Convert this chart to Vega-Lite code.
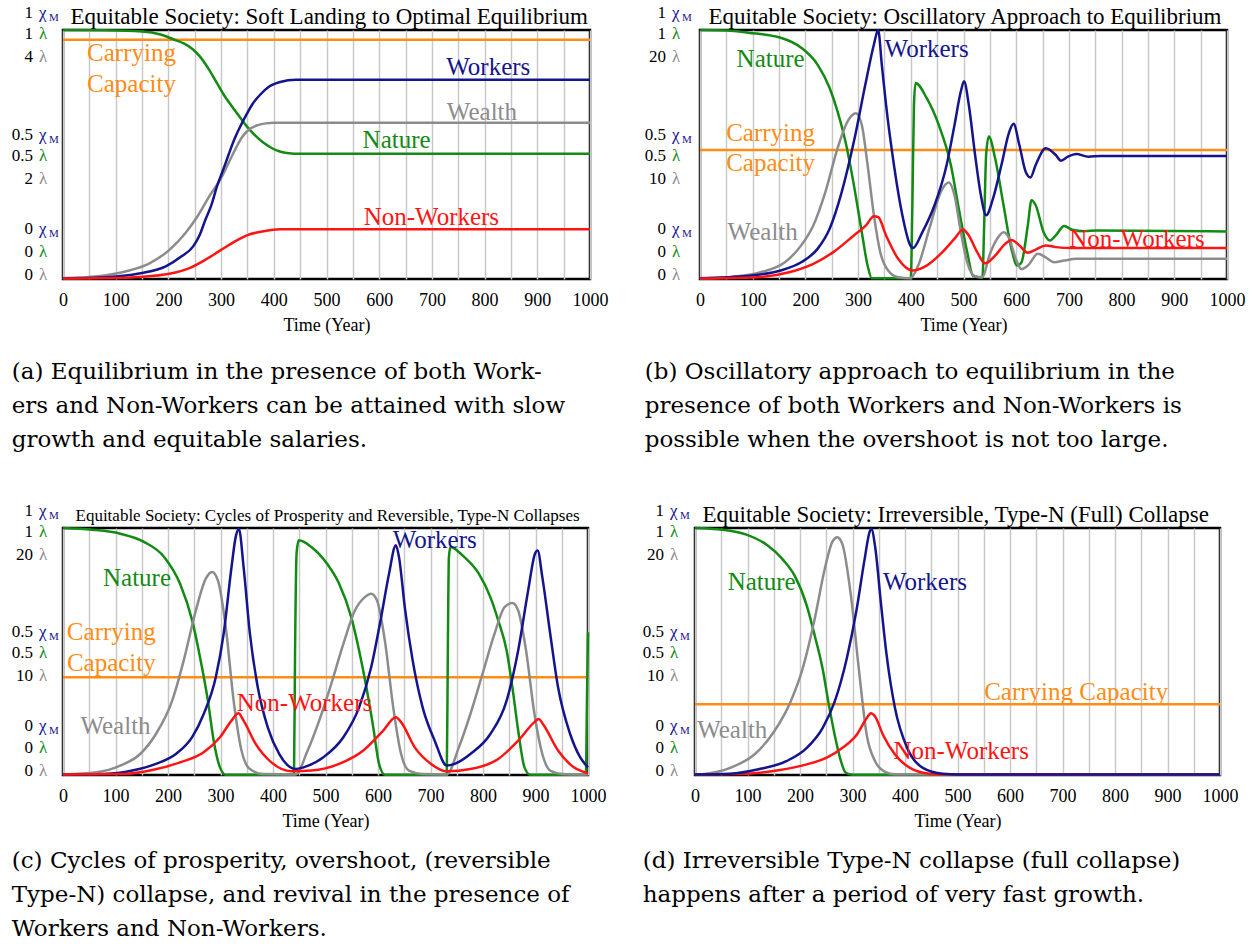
{
  "$schema": "https://vega.github.io/schema/vega-lite/v6.json",
  "padding": {"left": 10, "top": 2, "right": 0, "bottom": 0},
  "background": "white",
  "config": {
    "font": "Liberation Serif",
    "view": {"stroke": "black", "strokeWidth": 2.5},
    "axis": {"labelColor": "black", "titleColor": "black", "labelFont": "Liberation Serif", "titleFont": "Liberation Serif"},
    "text": {"font": "Liberation Serif"}
  },
  "datasets": {
    "curves": [
      {"panel":"a","series":"Carrying Capacity","year":0,"value":0.961},
      {"panel":"a","series":"Carrying Capacity","year":1000,"value":0.961},
      {"panel":"a","series":"Nature","year":0,"value":1},
      {"panel":"a","series":"Nature","year":80,"value":0.999},
      {"panel":"a","series":"Nature","year":150,"value":0.994},
      {"panel":"a","series":"Nature","year":185,"value":0.982},
      {"panel":"a","series":"Nature","year":210,"value":0.962},
      {"panel":"a","series":"Nature","year":230,"value":0.945},
      {"panel":"a","series":"Nature","year":245,"value":0.925},
      {"panel":"a","series":"Nature","year":260,"value":0.893},
      {"panel":"a","series":"Nature","year":275,"value":0.848},
      {"panel":"a","series":"Nature","year":290,"value":0.795},
      {"panel":"a","series":"Nature","year":305,"value":0.74},
      {"panel":"a","series":"Nature","year":320,"value":0.695},
      {"panel":"a","series":"Nature","year":335,"value":0.652},
      {"panel":"a","series":"Nature","year":350,"value":0.61},
      {"panel":"a","series":"Nature","year":365,"value":0.576},
      {"panel":"a","series":"Nature","year":380,"value":0.548},
      {"panel":"a","series":"Nature","year":395,"value":0.527},
      {"panel":"a","series":"Nature","year":410,"value":0.513},
      {"panel":"a","series":"Nature","year":425,"value":0.506},
      {"panel":"a","series":"Nature","year":440,"value":0.503},
      {"panel":"a","series":"Nature","year":1000,"value":0.503},
      {"panel":"a","series":"Wealth","year":0,"value":0.003},
      {"panel":"a","series":"Wealth","year":67,"value":0.011},
      {"panel":"a","series":"Wealth","year":120,"value":0.031},
      {"panel":"a","series":"Wealth","year":165,"value":0.064},
      {"panel":"a","series":"Wealth","year":202,"value":0.117},
      {"panel":"a","series":"Wealth","year":232,"value":0.184},
      {"panel":"a","series":"Wealth","year":255,"value":0.251},
      {"panel":"a","series":"Wealth","year":277,"value":0.33},
      {"panel":"a","series":"Wealth","year":300,"value":0.405},
      {"panel":"a","series":"Wealth","year":322,"value":0.5},
      {"panel":"a","series":"Wealth","year":340,"value":0.57},
      {"panel":"a","series":"Wealth","year":355,"value":0.603},
      {"panel":"a","series":"Wealth","year":370,"value":0.618},
      {"panel":"a","series":"Wealth","year":385,"value":0.625},
      {"panel":"a","series":"Wealth","year":400,"value":0.628},
      {"panel":"a","series":"Wealth","year":1000,"value":0.628},
      {"panel":"a","series":"Workers","year":0,"value":0.003},
      {"panel":"a","series":"Workers","year":60,"value":0.005},
      {"panel":"a","series":"Workers","year":105,"value":0.011},
      {"panel":"a","series":"Workers","year":150,"value":0.024},
      {"panel":"a","series":"Workers","year":195,"value":0.051},
      {"panel":"a","series":"Workers","year":225,"value":0.091},
      {"panel":"a","series":"Workers","year":247,"value":0.131},
      {"panel":"a","series":"Workers","year":260,"value":0.18},
      {"panel":"a","series":"Workers","year":270,"value":0.237},
      {"panel":"a","series":"Workers","year":282,"value":0.3},
      {"panel":"a","series":"Workers","year":292,"value":0.371},
      {"panel":"a","series":"Workers","year":305,"value":0.445},
      {"panel":"a","series":"Workers","year":315,"value":0.504},
      {"panel":"a","series":"Workers","year":326,"value":0.565},
      {"panel":"a","series":"Workers","year":337,"value":0.615},
      {"panel":"a","series":"Workers","year":348,"value":0.66},
      {"panel":"a","series":"Workers","year":360,"value":0.704},
      {"panel":"a","series":"Workers","year":375,"value":0.742},
      {"panel":"a","series":"Workers","year":390,"value":0.771},
      {"panel":"a","series":"Workers","year":412,"value":0.791},
      {"panel":"a","series":"Workers","year":442,"value":0.8},
      {"panel":"a","series":"Workers","year":1000,"value":0.8},
      {"panel":"a","series":"Non-Workers","year":0,"value":0.002},
      {"panel":"a","series":"Non-Workers","year":100,"value":0.004},
      {"panel":"a","series":"Non-Workers","year":142,"value":0.008},
      {"panel":"a","series":"Non-Workers","year":202,"value":0.021},
      {"panel":"a","series":"Non-Workers","year":240,"value":0.044},
      {"panel":"a","series":"Non-Workers","year":270,"value":0.077},
      {"panel":"a","series":"Non-Workers","year":300,"value":0.117},
      {"panel":"a","series":"Non-Workers","year":330,"value":0.155},
      {"panel":"a","series":"Non-Workers","year":350,"value":0.176},
      {"panel":"a","series":"Non-Workers","year":370,"value":0.188},
      {"panel":"a","series":"Non-Workers","year":390,"value":0.195},
      {"panel":"a","series":"Non-Workers","year":412,"value":0.2},
      {"panel":"a","series":"Non-Workers","year":1000,"value":0.2},

      {"panel":"b","series":"Carrying Capacity","year":0,"value":0.518},
      {"panel":"b","series":"Carrying Capacity","year":1000,"value":0.518},
      {"panel":"b","series":"Nature","year":0,"value":1},
      {"panel":"b","series":"Nature","year":50,"value":0.998},
      {"panel":"b","series":"Nature","year":92,"value":0.989},
      {"panel":"b","series":"Nature","year":153,"value":0.969},
      {"panel":"b","series":"Nature","year":192,"value":0.929},
      {"panel":"b","series":"Nature","year":223,"value":0.861},
      {"panel":"b","series":"Nature","year":246,"value":0.767},
      {"panel":"b","series":"Nature","year":261,"value":0.673},
      {"panel":"b","series":"Nature","year":276,"value":0.552},
      {"panel":"b","series":"Nature","year":292,"value":0.377},
      {"panel":"b","series":"Nature","year":307,"value":0.188},
      {"panel":"b","series":"Nature","year":318,"value":0.054},
      {"panel":"b","series":"Nature","year":326,"value":0.003},
      {"panel":"b","series":"Nature","year":400,"value":0.003},
      {"panel":"b","series":"Nature","year":403,"value":0.3},
      {"panel":"b","series":"Nature","year":406,"value":0.7},
      {"panel":"b","series":"Nature","year":409,"value":0.787},
      {"panel":"b","series":"Nature","year":430,"value":0.727},
      {"panel":"b","series":"Nature","year":453,"value":0.619},
      {"panel":"b","series":"Nature","year":476,"value":0.458},
      {"panel":"b","series":"Nature","year":491,"value":0.283},
      {"panel":"b","series":"Nature","year":507,"value":0.108},
      {"panel":"b","series":"Nature","year":518,"value":0.013},
      {"panel":"b","series":"Nature","year":536,"value":0.005},
      {"panel":"b","series":"Nature","year":539,"value":0.2},
      {"panel":"b","series":"Nature","year":543,"value":0.5},
      {"panel":"b","series":"Nature","year":548,"value":0.572},
      {"panel":"b","series":"Nature","year":560,"value":0.485},
      {"panel":"b","series":"Nature","year":576,"value":0.296},
      {"panel":"b","series":"Nature","year":591,"value":0.121},
      {"panel":"b","series":"Nature","year":602,"value":0.054},
      {"panel":"b","series":"Nature","year":610,"value":0.067},
      {"panel":"b","series":"Nature","year":622,"value":0.215},
      {"panel":"b","series":"Nature","year":629,"value":0.316},
      {"panel":"b","series":"Nature","year":637,"value":0.296},
      {"panel":"b","series":"Nature","year":652,"value":0.188},
      {"panel":"b","series":"Nature","year":664,"value":0.155},
      {"panel":"b","series":"Nature","year":675,"value":0.175},
      {"panel":"b","series":"Nature","year":691,"value":0.213},
      {"panel":"b","series":"Nature","year":706,"value":0.198},
      {"panel":"b","series":"Nature","year":729,"value":0.192},
      {"panel":"b","series":"Nature","year":752,"value":0.195},
      {"panel":"b","series":"Nature","year":1000,"value":0.191},
      {"panel":"b","series":"Wealth","year":0,"value":0.002},
      {"panel":"b","series":"Wealth","year":54,"value":0.007},
      {"panel":"b","series":"Wealth","year":115,"value":0.027},
      {"panel":"b","series":"Wealth","year":161,"value":0.067},
      {"panel":"b","series":"Wealth","year":192,"value":0.135},
      {"panel":"b","series":"Wealth","year":215,"value":0.215},
      {"panel":"b","series":"Wealth","year":238,"value":0.35},
      {"panel":"b","series":"Wealth","year":261,"value":0.525},
      {"panel":"b","series":"Wealth","year":280,"value":0.633},
      {"panel":"b","series":"Wealth","year":296,"value":0.666},
      {"panel":"b","series":"Wealth","year":307,"value":0.619},
      {"panel":"b","series":"Wealth","year":318,"value":0.458},
      {"panel":"b","series":"Wealth","year":330,"value":0.256},
      {"panel":"b","series":"Wealth","year":342,"value":0.108},
      {"panel":"b","series":"Wealth","year":357,"value":0.034},
      {"panel":"b","series":"Wealth","year":376,"value":0.007},
      {"panel":"b","series":"Wealth","year":399,"value":0.003},
      {"panel":"b","series":"Wealth","year":414,"value":0.054},
      {"panel":"b","series":"Wealth","year":437,"value":0.215},
      {"panel":"b","series":"Wealth","year":457,"value":0.35},
      {"panel":"b","series":"Wealth","year":472,"value":0.388},
      {"panel":"b","series":"Wealth","year":483,"value":0.336},
      {"panel":"b","series":"Wealth","year":495,"value":0.188},
      {"panel":"b","series":"Wealth","year":507,"value":0.067},
      {"panel":"b","series":"Wealth","year":522,"value":0.011},
      {"panel":"b","series":"Wealth","year":536,"value":0.007},
      {"panel":"b","series":"Wealth","year":549,"value":0.094},
      {"panel":"b","series":"Wealth","year":564,"value":0.162},
      {"panel":"b","series":"Wealth","year":576,"value":0.188},
      {"panel":"b","series":"Wealth","year":587,"value":0.162},
      {"panel":"b","series":"Wealth","year":599,"value":0.081},
      {"panel":"b","series":"Wealth","year":610,"value":0.04},
      {"panel":"b","series":"Wealth","year":622,"value":0.054},
      {"panel":"b","series":"Wealth","year":641,"value":0.101},
      {"panel":"b","series":"Wealth","year":656,"value":0.087},
      {"panel":"b","series":"Wealth","year":672,"value":0.067},
      {"panel":"b","series":"Wealth","year":691,"value":0.074},
      {"panel":"b","series":"Wealth","year":714,"value":0.081},
      {"panel":"b","series":"Wealth","year":1000,"value":0.081},
      {"panel":"b","series":"Workers","year":0,"value":0.003},
      {"panel":"b","series":"Workers","year":92,"value":0.013},
      {"panel":"b","series":"Workers","year":153,"value":0.034},
      {"panel":"b","series":"Workers","year":192,"value":0.067},
      {"panel":"b","series":"Workers","year":223,"value":0.121},
      {"panel":"b","series":"Workers","year":246,"value":0.202},
      {"panel":"b","series":"Workers","year":269,"value":0.35},
      {"panel":"b","series":"Workers","year":292,"value":0.552},
      {"panel":"b","series":"Workers","year":315,"value":0.794},
      {"panel":"b","series":"Workers","year":330,"value":0.942},
      {"panel":"b","series":"Workers","year":338,"value":1.0},
      {"panel":"b","series":"Workers","year":345,"value":0.86},
      {"panel":"b","series":"Workers","year":353,"value":0.7},
      {"panel":"b","series":"Workers","year":368,"value":0.458},
      {"panel":"b","series":"Workers","year":384,"value":0.256},
      {"panel":"b","series":"Workers","year":399,"value":0.135},
      {"panel":"b","series":"Workers","year":404,"value":0.124},
      {"panel":"b","series":"Workers","year":422,"value":0.188},
      {"panel":"b","series":"Workers","year":445,"value":0.296},
      {"panel":"b","series":"Workers","year":468,"value":0.458},
      {"panel":"b","series":"Workers","year":483,"value":0.619},
      {"panel":"b","series":"Workers","year":495,"value":0.754},
      {"panel":"b","series":"Workers","year":501,"value":0.794},
      {"panel":"b","series":"Workers","year":510,"value":0.7},
      {"panel":"b","series":"Workers","year":522,"value":0.498},
      {"panel":"b","series":"Workers","year":533,"value":0.336},
      {"panel":"b","series":"Workers","year":543,"value":0.256},
      {"panel":"b","series":"Workers","year":556,"value":0.323},
      {"panel":"b","series":"Workers","year":572,"value":0.458},
      {"panel":"b","series":"Workers","year":587,"value":0.592},
      {"panel":"b","series":"Workers","year":595,"value":0.623},
      {"panel":"b","series":"Workers","year":606,"value":0.538},
      {"panel":"b","series":"Workers","year":618,"value":0.431},
      {"panel":"b","series":"Workers","year":627,"value":0.408},
      {"panel":"b","series":"Workers","year":637,"value":0.458},
      {"panel":"b","series":"Workers","year":656,"value":0.525},
      {"panel":"b","series":"Workers","year":675,"value":0.498},
      {"panel":"b","series":"Workers","year":685,"value":0.475},
      {"panel":"b","series":"Workers","year":698,"value":0.491},
      {"panel":"b","series":"Workers","year":714,"value":0.502},
      {"panel":"b","series":"Workers","year":737,"value":0.491},
      {"panel":"b","series":"Workers","year":760,"value":0.494},
      {"panel":"b","series":"Workers","year":1000,"value":0.494},
      {"panel":"b","series":"Non-Workers","year":0,"value":0.002},
      {"panel":"b","series":"Non-Workers","year":107,"value":0.007},
      {"panel":"b","series":"Non-Workers","year":169,"value":0.027},
      {"panel":"b","series":"Non-Workers","year":215,"value":0.061},
      {"panel":"b","series":"Non-Workers","year":253,"value":0.108},
      {"panel":"b","series":"Non-Workers","year":292,"value":0.175},
      {"panel":"b","series":"Non-Workers","year":315,"value":0.215},
      {"panel":"b","series":"Non-Workers","year":330,"value":0.252},
      {"panel":"b","series":"Non-Workers","year":338,"value":0.249},
      {"panel":"b","series":"Non-Workers","year":353,"value":0.175},
      {"panel":"b","series":"Non-Workers","year":376,"value":0.081},
      {"panel":"b","series":"Non-Workers","year":403,"value":0.034},
      {"panel":"b","series":"Non-Workers","year":430,"value":0.054},
      {"panel":"b","series":"Non-Workers","year":460,"value":0.108},
      {"panel":"b","series":"Non-Workers","year":483,"value":0.162},
      {"panel":"b","series":"Non-Workers","year":499,"value":0.199},
      {"panel":"b","series":"Non-Workers","year":510,"value":0.175},
      {"panel":"b","series":"Non-Workers","year":526,"value":0.108},
      {"panel":"b","series":"Non-Workers","year":541,"value":0.063},
      {"panel":"b","series":"Non-Workers","year":560,"value":0.094},
      {"panel":"b","series":"Non-Workers","year":579,"value":0.141},
      {"panel":"b","series":"Non-Workers","year":591,"value":0.157},
      {"panel":"b","series":"Non-Workers","year":606,"value":0.135},
      {"panel":"b","series":"Non-Workers","year":622,"value":0.105},
      {"panel":"b","series":"Non-Workers","year":637,"value":0.118},
      {"panel":"b","series":"Non-Workers","year":656,"value":0.135},
      {"panel":"b","series":"Non-Workers","year":675,"value":0.128},
      {"panel":"b","series":"Non-Workers","year":706,"value":0.124},
      {"panel":"b","series":"Non-Workers","year":1000,"value":0.124},

      {"panel":"c","series":"Carrying Capacity","year":0,"value":0.396},
      {"panel":"c","series":"Carrying Capacity","year":1000,"value":0.396},
      {"panel":"c","series":"Nature","year":0,"value":1},
      {"panel":"c","series":"Nature","year":56,"value":0.993},
      {"panel":"c","series":"Nature","year":109,"value":0.977},
      {"panel":"c","series":"Nature","year":155,"value":0.943},
      {"panel":"c","series":"Nature","year":193,"value":0.882},
      {"panel":"c","series":"Nature","year":223,"value":0.774},
      {"panel":"c","series":"Nature","year":246,"value":0.626},
      {"panel":"c","series":"Nature","year":261,"value":0.477},
      {"panel":"c","series":"Nature","year":276,"value":0.301},
      {"panel":"c","series":"Nature","year":287,"value":0.139},
      {"panel":"c","series":"Nature","year":299,"value":0.031},
      {"panel":"c","series":"Nature","year":310,"value":0.001},
      {"panel":"c","series":"Nature","year":440,"value":0.001},
      {"panel":"c","series":"Nature","year":442,"value":0.5},
      {"panel":"c","series":"Nature","year":445,"value":0.9},
      {"panel":"c","series":"Nature","year":449,"value":0.95},
      {"panel":"c","series":"Nature","year":473,"value":0.923},
      {"panel":"c","series":"Nature","year":503,"value":0.855},
      {"panel":"c","series":"Nature","year":526,"value":0.774},
      {"panel":"c","series":"Nature","year":549,"value":0.639},
      {"panel":"c","series":"Nature","year":564,"value":0.504},
      {"panel":"c","series":"Nature","year":579,"value":0.342},
      {"panel":"c","series":"Nature","year":591,"value":0.193},
      {"panel":"c","series":"Nature","year":602,"value":0.045},
      {"panel":"c","series":"Nature","year":613,"value":0.001},
      {"panel":"c","series":"Nature","year":731,"value":0.001},
      {"panel":"c","series":"Nature","year":733,"value":0.5},
      {"panel":"c","series":"Nature","year":735,"value":0.88},
      {"panel":"c","series":"Nature","year":738,"value":0.923},
      {"panel":"c","series":"Nature","year":761,"value":0.889},
      {"panel":"c","series":"Nature","year":792,"value":0.815},
      {"panel":"c","series":"Nature","year":814,"value":0.72},
      {"panel":"c","series":"Nature","year":829,"value":0.626},
      {"panel":"c","series":"Nature","year":845,"value":0.504},
      {"panel":"c","series":"Nature","year":856,"value":0.355},
      {"panel":"c","series":"Nature","year":867,"value":0.18},
      {"panel":"c","series":"Nature","year":879,"value":0.031},
      {"panel":"c","series":"Nature","year":890,"value":0.001},
      {"panel":"c","series":"Nature","year":996,"value":0.001},
      {"panel":"c","series":"Nature","year":998,"value":0.3},
      {"panel":"c","series":"Nature","year":1000,"value":0.578},
      {"panel":"c","series":"Wealth","year":0,"value":0.002},
      {"panel":"c","series":"Wealth","year":64,"value":0.011},
      {"panel":"c","series":"Wealth","year":109,"value":0.038},
      {"panel":"c","series":"Wealth","year":147,"value":0.085},
      {"panel":"c","series":"Wealth","year":177,"value":0.166},
      {"panel":"c","series":"Wealth","year":208,"value":0.301},
      {"panel":"c","series":"Wealth","year":230,"value":0.464},
      {"panel":"c","series":"Wealth","year":253,"value":0.666},
      {"panel":"c","series":"Wealth","year":272,"value":0.795},
      {"panel":"c","series":"Wealth","year":284,"value":0.822},
      {"panel":"c","series":"Wealth","year":295,"value":0.788},
      {"panel":"c","series":"Wealth","year":310,"value":0.599},
      {"panel":"c","series":"Wealth","year":325,"value":0.301},
      {"panel":"c","series":"Wealth","year":340,"value":0.099},
      {"panel":"c","series":"Wealth","year":356,"value":0.024},
      {"panel":"c","series":"Wealth","year":382,"value":0.004},
      {"panel":"c","series":"Wealth","year":443,"value":0.002},
      {"panel":"c","series":"Wealth","year":466,"value":0.099},
      {"panel":"c","series":"Wealth","year":488,"value":0.22},
      {"panel":"c","series":"Wealth","year":511,"value":0.369},
      {"panel":"c","series":"Wealth","year":534,"value":0.531},
      {"panel":"c","series":"Wealth","year":556,"value":0.666},
      {"panel":"c","series":"Wealth","year":575,"value":0.72},
      {"panel":"c","series":"Wealth","year":587,"value":0.734},
      {"panel":"c","series":"Wealth","year":598,"value":0.707},
      {"panel":"c","series":"Wealth","year":613,"value":0.545},
      {"panel":"c","series":"Wealth","year":629,"value":0.274},
      {"panel":"c","series":"Wealth","year":644,"value":0.085},
      {"panel":"c","series":"Wealth","year":659,"value":0.018},
      {"panel":"c","series":"Wealth","year":685,"value":0.004},
      {"panel":"c","series":"Wealth","year":731,"value":0.002},
      {"panel":"c","series":"Wealth","year":754,"value":0.112},
      {"panel":"c","series":"Wealth","year":776,"value":0.247},
      {"panel":"c","series":"Wealth","year":799,"value":0.409},
      {"panel":"c","series":"Wealth","year":822,"value":0.572},
      {"panel":"c","series":"Wealth","year":841,"value":0.68},
      {"panel":"c","series":"Wealth","year":856,"value":0.696},
      {"panel":"c","series":"Wealth","year":867,"value":0.666},
      {"panel":"c","series":"Wealth","year":882,"value":0.504},
      {"panel":"c","series":"Wealth","year":898,"value":0.247},
      {"panel":"c","series":"Wealth","year":913,"value":0.085},
      {"panel":"c","series":"Wealth","year":928,"value":0.018},
      {"panel":"c","series":"Wealth","year":951,"value":0.004},
      {"panel":"c","series":"Wealth","year":1000,"value":0.002},
      {"panel":"c","series":"Workers","year":0,"value":0.002},
      {"panel":"c","series":"Workers","year":79,"value":0.004},
      {"panel":"c","series":"Workers","year":132,"value":0.018},
      {"panel":"c","series":"Workers","year":177,"value":0.045},
      {"panel":"c","series":"Workers","year":215,"value":0.085},
      {"panel":"c","series":"Workers","year":246,"value":0.153},
      {"panel":"c","series":"Workers","year":268,"value":0.247},
      {"panel":"c","series":"Workers","year":291,"value":0.396},
      {"panel":"c","series":"Workers","year":306,"value":0.572},
      {"panel":"c","series":"Workers","year":321,"value":0.842},
      {"panel":"c","series":"Workers","year":329,"value":0.964},
      {"panel":"c","series":"Workers","year":335,"value":0.997},
      {"panel":"c","series":"Workers","year":344,"value":0.842},
      {"panel":"c","series":"Workers","year":356,"value":0.572},
      {"panel":"c","series":"Workers","year":371,"value":0.355},
      {"panel":"c","series":"Workers","year":390,"value":0.193},
      {"panel":"c","series":"Workers","year":412,"value":0.085},
      {"panel":"c","series":"Workers","year":443,"value":0.024},
      {"panel":"c","series":"Workers","year":458,"value":0.031},
      {"panel":"c","series":"Workers","year":496,"value":0.072},
      {"panel":"c","series":"Workers","year":534,"value":0.153},
      {"panel":"c","series":"Workers","year":564,"value":0.274},
      {"panel":"c","series":"Workers","year":587,"value":0.436},
      {"panel":"c","series":"Workers","year":606,"value":0.639},
      {"panel":"c","series":"Workers","year":621,"value":0.815},
      {"panel":"c","series":"Workers","year":634,"value":0.93},
      {"panel":"c","series":"Workers","year":640,"value":0.882},
      {"panel":"c","series":"Workers","year":651,"value":0.68},
      {"panel":"c","series":"Workers","year":666,"value":0.464},
      {"panel":"c","series":"Workers","year":685,"value":0.274},
      {"panel":"c","series":"Workers","year":708,"value":0.139},
      {"panel":"c","series":"Workers","year":731,"value":0.038},
      {"panel":"c","series":"Workers","year":746,"value":0.045},
      {"panel":"c","series":"Workers","year":776,"value":0.085},
      {"panel":"c","series":"Workers","year":814,"value":0.166},
      {"panel":"c","series":"Workers","year":845,"value":0.301},
      {"panel":"c","series":"Workers","year":867,"value":0.504},
      {"panel":"c","series":"Workers","year":886,"value":0.747},
      {"panel":"c","series":"Workers","year":899,"value":0.896},
      {"panel":"c","series":"Workers","year":904,"value":0.909},
      {"panel":"c","series":"Workers","year":913,"value":0.801},
      {"panel":"c","series":"Workers","year":928,"value":0.572},
      {"panel":"c","series":"Workers","year":943,"value":0.355},
      {"panel":"c","series":"Workers","year":966,"value":0.166},
      {"panel":"c","series":"Workers","year":985,"value":0.072},
      {"panel":"c","series":"Workers","year":1000,"value":0.031},
      {"panel":"c","series":"Non-Workers","year":0,"value":0.002},
      {"panel":"c","series":"Non-Workers","year":117,"value":0.004},
      {"panel":"c","series":"Non-Workers","year":170,"value":0.02},
      {"panel":"c","series":"Non-Workers","year":223,"value":0.051},
      {"panel":"c","series":"Non-Workers","year":268,"value":0.092},
      {"panel":"c","series":"Non-Workers","year":299,"value":0.153},
      {"panel":"c","series":"Non-Workers","year":321,"value":0.22},
      {"panel":"c","series":"Non-Workers","year":334,"value":0.25},
      {"panel":"c","series":"Non-Workers","year":344,"value":0.22},
      {"panel":"c","series":"Non-Workers","year":367,"value":0.126},
      {"panel":"c","series":"Non-Workers","year":397,"value":0.051},
      {"panel":"c","series":"Non-Workers","year":435,"value":0.015},
      {"panel":"c","series":"Non-Workers","year":473,"value":0.018},
      {"panel":"c","series":"Non-Workers","year":526,"value":0.045},
      {"panel":"c","series":"Non-Workers","year":572,"value":0.099},
      {"panel":"c","series":"Non-Workers","year":610,"value":0.18},
      {"panel":"c","series":"Non-Workers","year":634,"value":0.234},
      {"panel":"c","series":"Non-Workers","year":644,"value":0.214},
      {"panel":"c","series":"Non-Workers","year":670,"value":0.112},
      {"panel":"c","series":"Non-Workers","year":701,"value":0.045},
      {"panel":"c","series":"Non-Workers","year":731,"value":0.015},
      {"panel":"c","series":"Non-Workers","year":776,"value":0.024},
      {"panel":"c","series":"Non-Workers","year":829,"value":0.065},
      {"panel":"c","series":"Non-Workers","year":867,"value":0.139},
      {"panel":"c","series":"Non-Workers","year":898,"value":0.214},
      {"panel":"c","series":"Non-Workers","year":906,"value":0.227},
      {"panel":"c","series":"Non-Workers","year":916,"value":0.2},
      {"panel":"c","series":"Non-Workers","year":943,"value":0.099},
      {"panel":"c","series":"Non-Workers","year":973,"value":0.031},
      {"panel":"c","series":"Non-Workers","year":1000,"value":0.007},

      {"panel":"d","series":"Carrying Capacity","year":0,"value":0.286},
      {"panel":"d","series":"Carrying Capacity","year":1000,"value":0.286},
      {"panel":"d","series":"Nature","year":0,"value":1},
      {"panel":"d","series":"Nature","year":52,"value":0.993},
      {"panel":"d","series":"Nature","year":98,"value":0.973},
      {"panel":"d","series":"Nature","year":136,"value":0.933},
      {"panel":"d","series":"Nature","year":167,"value":0.873},
      {"panel":"d","series":"Nature","year":190,"value":0.806},
      {"panel":"d","series":"Nature","year":213,"value":0.685},
      {"panel":"d","series":"Nature","year":228,"value":0.565},
      {"panel":"d","series":"Nature","year":243,"value":0.431},
      {"panel":"d","series":"Nature","year":255,"value":0.284},
      {"panel":"d","series":"Nature","year":266,"value":0.163},
      {"panel":"d","series":"Nature","year":278,"value":0.056},
      {"panel":"d","series":"Nature","year":287,"value":0.009},
      {"panel":"d","series":"Nature","year":300,"value":0.001},
      {"panel":"d","series":"Nature","year":1000,"value":0.001},
      {"panel":"d","series":"Wealth","year":0,"value":0.002},
      {"panel":"d","series":"Wealth","year":21,"value":0.005},
      {"panel":"d","series":"Wealth","year":67,"value":0.029},
      {"panel":"d","series":"Wealth","year":113,"value":0.083},
      {"panel":"d","series":"Wealth","year":151,"value":0.177},
      {"panel":"d","series":"Wealth","year":182,"value":0.297},
      {"panel":"d","series":"Wealth","year":205,"value":0.431},
      {"panel":"d","series":"Wealth","year":228,"value":0.632},
      {"panel":"d","series":"Wealth","year":247,"value":0.833},
      {"panel":"d","series":"Wealth","year":262,"value":0.946},
      {"panel":"d","series":"Wealth","year":271,"value":0.963},
      {"panel":"d","series":"Wealth","year":281,"value":0.933},
      {"panel":"d","series":"Wealth","year":297,"value":0.726},
      {"panel":"d","series":"Wealth","year":312,"value":0.431},
      {"panel":"d","series":"Wealth","year":327,"value":0.163},
      {"panel":"d","series":"Wealth","year":343,"value":0.056},
      {"panel":"d","series":"Wealth","year":362,"value":0.013},
      {"panel":"d","series":"Wealth","year":381,"value":0.003},
      {"panel":"d","series":"Wealth","year":1000,"value":0.002},
      {"panel":"d","series":"Non-Workers","year":0,"value":0.002},
      {"panel":"d","series":"Non-Workers","year":98,"value":0.005},
      {"panel":"d","series":"Non-Workers","year":159,"value":0.019},
      {"panel":"d","series":"Non-Workers","year":213,"value":0.043},
      {"panel":"d","series":"Non-Workers","year":251,"value":0.07},
      {"panel":"d","series":"Non-Workers","year":281,"value":0.11},
      {"panel":"d","series":"Non-Workers","year":308,"value":0.163},
      {"panel":"d","series":"Non-Workers","year":327,"value":0.23},
      {"panel":"d","series":"Non-Workers","year":335,"value":0.25},
      {"panel":"d","series":"Non-Workers","year":343,"value":0.237},
      {"panel":"d","series":"Non-Workers","year":358,"value":0.163},
      {"panel":"d","series":"Non-Workers","year":381,"value":0.083},
      {"panel":"d","series":"Non-Workers","year":404,"value":0.036},
      {"panel":"d","series":"Non-Workers","year":434,"value":0.009},
      {"panel":"d","series":"Non-Workers","year":465,"value":0.002},
      {"panel":"d","series":"Non-Workers","year":1000,"value":0.002},
      {"panel":"d","series":"Workers","year":0,"value":0.002},
      {"panel":"d","series":"Workers","year":67,"value":0.005},
      {"panel":"d","series":"Workers","year":121,"value":0.023},
      {"panel":"d","series":"Workers","year":174,"value":0.056},
      {"panel":"d","series":"Workers","year":213,"value":0.11},
      {"panel":"d","series":"Workers","year":243,"value":0.19},
      {"panel":"d","series":"Workers","year":266,"value":0.297},
      {"panel":"d","series":"Workers","year":289,"value":0.471},
      {"panel":"d","series":"Workers","year":308,"value":0.672},
      {"panel":"d","series":"Workers","year":323,"value":0.873},
      {"panel":"d","series":"Workers","year":333,"value":0.987},
      {"panel":"d","series":"Workers","year":336,"value":0.996},
      {"panel":"d","series":"Workers","year":343,"value":0.926},
      {"panel":"d","series":"Workers","year":354,"value":0.699},
      {"panel":"d","series":"Workers","year":365,"value":0.485},
      {"panel":"d","series":"Workers","year":381,"value":0.27},
      {"panel":"d","series":"Workers","year":404,"value":0.11},
      {"panel":"d","series":"Workers","year":434,"value":0.029},
      {"panel":"d","series":"Workers","year":472,"value":0.005},
      {"panel":"d","series":"Workers","year":503,"value":0.002},
      {"panel":"d","series":"Workers","year":1000,"value":0.002}
    ],
    "labels": [
      {"panel":"a","series":"Carrying Capacity","label":"Carrying","year":130,"value":0.907},
      {"panel":"a","series":"Carrying Capacity","label":"Capacity","year":130,"value":0.784},
      {"panel":"a","series":"Workers","label":"Workers","year":807,"value":0.851},
      {"panel":"a","series":"Wealth","label":"Wealth","year":795,"value":0.671},
      {"panel":"a","series":"Nature","label":"Nature","year":633,"value":0.56},
      {"panel":"a","series":"Non-Workers","label":"Non-Workers","year":699,"value":0.248},
      {"panel":"b","series":"Nature","label":"Nature","year":134,"value":0.882},
      {"panel":"b","series":"Workers","label":"Workers","year":430,"value":0.922},
      {"panel":"b","series":"Carrying Capacity","label":"Carrying","year":134,"value":0.585},
      {"panel":"b","series":"Carrying Capacity","label":"Capacity","year":134,"value":0.464},
      {"panel":"b","series":"Wealth","label":"Wealth","year":119,"value":0.188},
      {"panel":"b","series":"Non-Workers","label":"Non-Workers","year":829,"value":0.162},
      {"panel":"c","series":"Nature","label":"Nature","year":141,"value":0.799},
      {"panel":"c","series":"Workers","label":"Workers","year":708,"value":0.953},
      {"panel":"c","series":"Carrying Capacity","label":"Carrying","year":92,"value":0.578},
      {"panel":"c","series":"Carrying Capacity","label":"Capacity","year":92,"value":0.453},
      {"panel":"c","series":"Non-Workers","label":"Non-Workers","year":460,"value":0.291},
      {"panel":"c","series":"Wealth","label":"Wealth","year":100,"value":0.2},
      {"panel":"d","series":"Nature","label":"Nature","year":127,"value":0.782},
      {"panel":"d","series":"Workers","label":"Workers","year":438,"value":0.782},
      {"panel":"d","series":"Carrying Capacity","label":"Carrying Capacity","year":726,"value":0.337},
      {"panel":"d","series":"Wealth","label":"Wealth","year":71,"value":0.183},
      {"panel":"d","series":"Non-Workers","label":"Non-Workers","year":507,"value":0.096}
    ],
    "ticks": [
      {"panel":"a","series":"Workers","num":"1","sym":"χ","value":1.07},
      {"panel":"a","series":"Nature","num":"1","sym":"λ","value":0.983},
      {"panel":"a","series":"Wealth","num":"4","sym":"λ","value":0.892},
      {"panel":"a","series":"Workers","num":"0.5","sym":"χ","value":0.58},
      {"panel":"a","series":"Nature","num":"0.5","sym":"λ","value":0.492},
      {"panel":"a","series":"Wealth","num":"2","sym":"λ","value":0.4},
      {"panel":"a","series":"Workers","num":"0","sym":"χ","value":0.2},
      {"panel":"a","series":"Nature","num":"0","sym":"λ","value":0.11},
      {"panel":"a","series":"Wealth","num":"0","sym":"λ","value":0.017},
      {"panel":"b","series":"Workers","num":"1","sym":"χ","value":1.07},
      {"panel":"b","series":"Nature","num":"1","sym":"λ","value":0.983},
      {"panel":"b","series":"Wealth","num":"20","sym":"λ","value":0.892},
      {"panel":"b","series":"Workers","num":"0.5","sym":"χ","value":0.58},
      {"panel":"b","series":"Nature","num":"0.5","sym":"λ","value":0.492},
      {"panel":"b","series":"Wealth","num":"10","sym":"λ","value":0.4},
      {"panel":"b","series":"Workers","num":"0","sym":"χ","value":0.2},
      {"panel":"b","series":"Nature","num":"0","sym":"λ","value":0.11},
      {"panel":"b","series":"Wealth","num":"0","sym":"λ","value":0.017},
      {"panel":"c","series":"Workers","num":"1","sym":"χ","value":1.07},
      {"panel":"c","series":"Nature","num":"1","sym":"λ","value":0.983},
      {"panel":"c","series":"Wealth","num":"20","sym":"λ","value":0.892},
      {"panel":"c","series":"Workers","num":"0.5","sym":"χ","value":0.58},
      {"panel":"c","series":"Nature","num":"0.5","sym":"λ","value":0.492},
      {"panel":"c","series":"Wealth","num":"10","sym":"λ","value":0.4},
      {"panel":"c","series":"Workers","num":"0","sym":"χ","value":0.2},
      {"panel":"c","series":"Nature","num":"0","sym":"λ","value":0.11},
      {"panel":"c","series":"Wealth","num":"0","sym":"λ","value":0.017},
      {"panel":"d","series":"Workers","num":"1","sym":"χ","value":1.07},
      {"panel":"d","series":"Nature","num":"1","sym":"λ","value":0.983},
      {"panel":"d","series":"Wealth","num":"20","sym":"λ","value":0.892},
      {"panel":"d","series":"Workers","num":"0.5","sym":"χ","value":0.58},
      {"panel":"d","series":"Nature","num":"0.5","sym":"λ","value":0.492},
      {"panel":"d","series":"Wealth","num":"10","sym":"λ","value":0.4},
      {"panel":"d","series":"Workers","num":"0","sym":"χ","value":0.2},
      {"panel":"d","series":"Nature","num":"0","sym":"λ","value":0.11},
      {"panel":"d","series":"Wealth","num":"0","sym":"λ","value":0.017}
    ]
  },
  "spacing": 46,
  "vconcat": [
    {
      "spacing": 33,
      "hconcat": [
        {
          "width": 527,
          "height": 249,
          "title": {"text": ["(a) Equilibrium in the presence of both Work-", "ers and Non-Workers can be attained with slow", "growth and equitable salaries."], "orient": "bottom", "anchor": "start", "font": "DejaVu Serif", "fontSize": 23, "fontWeight": "normal", "lineHeight": 34, "offset": 27, "color": "black"},
          "resolve": {"axis": {"x": "independent"}},
          "layer": [
            {
              "data": {"name": "curves"},
              "transform": [{"filter": "datum.panel === 'a'"}],
              "mark": {"type": "line", "strokeWidth": 2.5, "interpolate": "monotone"},
              "encoding": {
                "x": {"field": "year", "type": "quantitative", "scale": {"domain": [0, 1000], "nice": false, "zero": false},
                  "axis": {"values": [0,50,100,150,200,250,300,350,400,450,500,550,600,650,700,750,800,850,900,950,1000], "format": "d", "labelExpr": "datum.value % 100 === 0 ? datum.label : ''", "labelOverlap": false, "labelFlush": false, "ticks": false, "domain": false, "grid": true, "gridColor": "#c8c8c8", "gridWidth": 1.5, "labelFontSize": 18, "labelPadding": 12, "title": "Time (Year)", "titleFontSize": 18, "titleFontWeight": "normal", "titlePadding": 7}},
                "y": {"field": "value", "type": "quantitative", "scale": {"domain": [0, 1], "nice": false},
                  "axis": {"values": [0.25, 0.5, 0.75], "labels": false, "ticks": false, "domain": false, "grid": true, "gridColor": "#c8c8c8", "gridWidth": 1.5, "title": null}},
                "color": {"field": "series", "type": "nominal", "scale": {"domain": ["Nature", "Workers", "Wealth", "Non-Workers", "Carrying Capacity"], "range": ["#138a13", "#14148c", "#8c8c8c", "#ff1414", "#ff8c14"]}, "legend": null}
              }
            },
            {
              "data": {"name": "labels"},
              "transform": [{"filter": "datum.panel === 'a'"}],
              "mark": {"type": "text", "font": "Liberation Serif", "fontSize": 25, "align": "center", "baseline": "middle"},
              "encoding": {
                "x": {"field": "year", "type": "quantitative", "axis": {"orient": "top", "title": "Equitable Society: Soft Landing to Optimal Equilibrium", "labels": false, "ticks": false, "domain": false, "grid": false, "titleAnchor": "start", "titleAlign": "left", "titleBaseline": "alphabetic", "titleX": 7, "titleY": -7, "titleFontSize": 23, "titleFontWeight": "normal"}},
                "y": {"field": "value", "type": "quantitative", "axis": null},
                "text": {"field": "label"},
                "color": {"field": "series", "type": "nominal", "legend": null}
              }
            },
            {
              "data": {"name": "ticks"},
              "transform": [{"filter": "datum.panel === 'a'"}],
              "mark": {"type": "text", "font": "Liberation Serif", "fontSize": 17, "align": "right", "baseline": "middle", "dx": -30, "color": "black"},
              "encoding": {
                "x": {"datum": 0, "type": "quantitative", "axis": null},
                "y": {"field": "value", "type": "quantitative", "axis": null},
                "text": {"field": "num"}
              }
            },
            {
              "data": {"name": "ticks"},
              "transform": [{"filter": "datum.panel === 'a'"}],
              "mark": {"type": "text", "font": "Liberation Serif", "fontSize": 17, "align": "left", "baseline": "middle", "dx": -24},
              "encoding": {
                "x": {"datum": 0, "type": "quantitative", "axis": null},
                "y": {"field": "value", "type": "quantitative", "axis": null},
                "text": {"field": "sym"},
                "color": {"field": "series", "type": "nominal", "legend": null}
              }
            },
            {
              "data": {"name": "ticks"},
              "transform": [{"filter": "datum.panel === 'a' && datum.series === 'Workers'"}],
              "mark": {"type": "text", "font": "Liberation Serif", "fontSize": 11, "align": "left", "baseline": "middle", "dx": -14, "dy": 5, "text": "M"},
              "encoding": {
                "x": {"datum": 0, "type": "quantitative", "axis": null},
                "y": {"field": "value", "type": "quantitative", "axis": null},
                "color": {"field": "series", "type": "nominal", "legend": null}
              }
            }
          ]
        },
        {
          "width": 527,
          "height": 249,
          "title": {"text": ["(b) Oscillatory approach to equilibrium in the", "presence of both Workers and Non-Workers is", "possible when the overshoot is not too large."], "orient": "bottom", "anchor": "start", "font": "DejaVu Serif", "fontSize": 23, "fontWeight": "normal", "lineHeight": 34, "offset": 27, "color": "black"},
          "resolve": {"axis": {"x": "independent"}},
          "layer": [
            {
              "data": {"name": "curves"},
              "transform": [{"filter": "datum.panel === 'b'"}],
              "mark": {"type": "line", "strokeWidth": 2.5, "interpolate": "monotone"},
              "encoding": {
                "x": {"field": "year", "type": "quantitative", "scale": {"domain": [0, 1000], "nice": false, "zero": false},
                  "axis": {"values": [0,50,100,150,200,250,300,350,400,450,500,550,600,650,700,750,800,850,900,950,1000], "format": "d", "labelExpr": "datum.value % 100 === 0 ? datum.label : ''", "labelOverlap": false, "labelFlush": false, "ticks": false, "domain": false, "grid": true, "gridColor": "#c8c8c8", "gridWidth": 1.5, "labelFontSize": 18, "labelPadding": 12, "title": "Time (Year)", "titleFontSize": 18, "titleFontWeight": "normal", "titlePadding": 7}},
                "y": {"field": "value", "type": "quantitative", "scale": {"domain": [0, 1], "nice": false},
                  "axis": {"values": [0.25, 0.5, 0.75], "labels": false, "ticks": false, "domain": false, "grid": true, "gridColor": "#c8c8c8", "gridWidth": 1.5, "title": null}},
                "color": {"field": "series", "type": "nominal", "scale": {"domain": ["Nature", "Workers", "Wealth", "Non-Workers", "Carrying Capacity"], "range": ["#138a13", "#14148c", "#8c8c8c", "#ff1414", "#ff8c14"]}, "legend": null}
              }
            },
            {
              "data": {"name": "labels"},
              "transform": [{"filter": "datum.panel === 'b'"}],
              "mark": {"type": "text", "font": "Liberation Serif", "fontSize": 25, "align": "center", "baseline": "middle"},
              "encoding": {
                "x": {"field": "year", "type": "quantitative", "axis": {"orient": "top", "title": "Equitable Society: Oscillatory Approach to Equilibrium", "labels": false, "ticks": false, "domain": false, "grid": false, "titleAnchor": "start", "titleAlign": "left", "titleBaseline": "alphabetic", "titleX": 8, "titleY": -7, "titleFontSize": 23, "titleFontWeight": "normal"}},
                "y": {"field": "value", "type": "quantitative", "axis": null},
                "text": {"field": "label"},
                "color": {"field": "series", "type": "nominal", "legend": null}
              }
            },
            {
              "data": {"name": "ticks"},
              "transform": [{"filter": "datum.panel === 'b'"}],
              "mark": {"type": "text", "font": "Liberation Serif", "fontSize": 17, "align": "right", "baseline": "middle", "dx": -34, "color": "black"},
              "encoding": {
                "x": {"datum": 0, "type": "quantitative", "axis": null},
                "y": {"field": "value", "type": "quantitative", "axis": null},
                "text": {"field": "num"}
              }
            },
            {
              "data": {"name": "ticks"},
              "transform": [{"filter": "datum.panel === 'b'"}],
              "mark": {"type": "text", "font": "Liberation Serif", "fontSize": 17, "align": "left", "baseline": "middle", "dx": -28},
              "encoding": {
                "x": {"datum": 0, "type": "quantitative", "axis": null},
                "y": {"field": "value", "type": "quantitative", "axis": null},
                "text": {"field": "sym"},
                "color": {"field": "series", "type": "nominal", "legend": null}
              }
            },
            {
              "data": {"name": "ticks"},
              "transform": [{"filter": "datum.panel === 'b' && datum.series === 'Workers'"}],
              "mark": {"type": "text", "font": "Liberation Serif", "fontSize": 11, "align": "left", "baseline": "middle", "dx": -18, "dy": 5, "text": "M"},
              "encoding": {
                "x": {"datum": 0, "type": "quantitative", "axis": null},
                "y": {"field": "value", "type": "quantitative", "axis": null},
                "color": {"field": "series", "type": "nominal", "legend": null}
              }
            }
          ]
        }
      ]
    },
    {
      "spacing": 33,
      "hconcat": [
        {
          "width": 525,
          "height": 247,
          "title": {"text": ["(c) Cycles of prosperity, overshoot, (reversible", "Type-N) collapse, and revival in the presence of", "Workers and Non-Workers."], "orient": "bottom", "anchor": "start", "font": "DejaVu Serif", "fontSize": 23, "fontWeight": "normal", "lineHeight": 34, "offset": 20, "color": "black"},
          "resolve": {"axis": {"x": "independent"}},
          "layer": [
            {
              "data": {"name": "curves"},
              "transform": [{"filter": "datum.panel === 'c'"}],
              "mark": {"type": "line", "strokeWidth": 2.5, "interpolate": "monotone"},
              "encoding": {
                "x": {"field": "year", "type": "quantitative", "scale": {"domain": [0, 1000], "nice": false, "zero": false},
                  "axis": {"values": [0,50,100,150,200,250,300,350,400,450,500,550,600,650,700,750,800,850,900,950,1000], "format": "d", "labelExpr": "datum.value % 100 === 0 ? datum.label : ''", "labelOverlap": false, "labelFlush": false, "ticks": false, "domain": false, "grid": true, "gridColor": "#c8c8c8", "gridWidth": 1.5, "labelFontSize": 18, "labelPadding": 12, "title": "Time (Year)", "titleFontSize": 18, "titleFontWeight": "normal", "titlePadding": 7}},
                "y": {"field": "value", "type": "quantitative", "scale": {"domain": [0, 1], "nice": false},
                  "axis": {"values": [0.25, 0.5, 0.75], "labels": false, "ticks": false, "domain": false, "grid": true, "gridColor": "#c8c8c8", "gridWidth": 1.5, "title": null}},
                "color": {"field": "series", "type": "nominal", "scale": {"domain": ["Nature", "Workers", "Wealth", "Non-Workers", "Carrying Capacity"], "range": ["#138a13", "#14148c", "#8c8c8c", "#ff1414", "#ff8c14"]}, "legend": null}
              }
            },
            {
              "data": {"name": "labels"},
              "transform": [{"filter": "datum.panel === 'c'"}],
              "mark": {"type": "text", "font": "Liberation Serif", "fontSize": 25, "align": "center", "baseline": "middle"},
              "encoding": {
                "x": {"field": "year", "type": "quantitative", "axis": {"orient": "top", "title": "Equitable Society: Cycles of Prosperity and Reversible, Type-N Collapses", "labels": false, "ticks": false, "domain": false, "grid": false, "titleAnchor": "start", "titleAlign": "left", "titleBaseline": "alphabetic", "titleX": 12, "titleY": -8, "titleFontSize": 17, "titleFontWeight": "normal"}},
                "y": {"field": "value", "type": "quantitative", "axis": null},
                "text": {"field": "label"},
                "color": {"field": "series", "type": "nominal", "legend": null}
              }
            },
            {
              "data": {"name": "ticks"},
              "transform": [{"filter": "datum.panel === 'c'"}],
              "mark": {"type": "text", "font": "Liberation Serif", "fontSize": 17, "align": "right", "baseline": "middle", "dx": -30, "color": "black"},
              "encoding": {
                "x": {"datum": 0, "type": "quantitative", "axis": null},
                "y": {"field": "value", "type": "quantitative", "axis": null},
                "text": {"field": "num"}
              }
            },
            {
              "data": {"name": "ticks"},
              "transform": [{"filter": "datum.panel === 'c'"}],
              "mark": {"type": "text", "font": "Liberation Serif", "fontSize": 17, "align": "left", "baseline": "middle", "dx": -24},
              "encoding": {
                "x": {"datum": 0, "type": "quantitative", "axis": null},
                "y": {"field": "value", "type": "quantitative", "axis": null},
                "text": {"field": "sym"},
                "color": {"field": "series", "type": "nominal", "legend": null}
              }
            },
            {
              "data": {"name": "ticks"},
              "transform": [{"filter": "datum.panel === 'c' && datum.series === 'Workers'"}],
              "mark": {"type": "text", "font": "Liberation Serif", "fontSize": 11, "align": "left", "baseline": "middle", "dx": -14, "dy": 5, "text": "M"},
              "encoding": {
                "x": {"datum": 0, "type": "quantitative", "axis": null},
                "y": {"field": "value", "type": "quantitative", "axis": null},
                "color": {"field": "series", "type": "nominal", "legend": null}
              }
            }
          ]
        },
        {
          "width": 525,
          "height": 247,
          "title": {"text": ["(d) Irreversible Type-N collapse (full collapse)", "happens after a period of very fast growth."], "orient": "bottom", "anchor": "start", "font": "DejaVu Serif", "fontSize": 23, "fontWeight": "normal", "lineHeight": 34, "offset": 20, "color": "black"},
          "resolve": {"axis": {"x": "independent"}},
          "layer": [
            {
              "data": {"name": "curves"},
              "transform": [{"filter": "datum.panel === 'd'"}],
              "mark": {"type": "line", "strokeWidth": 2.5, "interpolate": "monotone"},
              "encoding": {
                "x": {"field": "year", "type": "quantitative", "scale": {"domain": [0, 1000], "nice": false, "zero": false},
                  "axis": {"values": [0,50,100,150,200,250,300,350,400,450,500,550,600,650,700,750,800,850,900,950,1000], "format": "d", "labelExpr": "datum.value % 100 === 0 ? datum.label : ''", "labelOverlap": false, "labelFlush": false, "ticks": false, "domain": false, "grid": true, "gridColor": "#c8c8c8", "gridWidth": 1.5, "labelFontSize": 18, "labelPadding": 12, "title": "Time (Year)", "titleFontSize": 18, "titleFontWeight": "normal", "titlePadding": 7}},
                "y": {"field": "value", "type": "quantitative", "scale": {"domain": [0, 1], "nice": false},
                  "axis": {"values": [0.25, 0.5, 0.75], "labels": false, "ticks": false, "domain": false, "grid": true, "gridColor": "#c8c8c8", "gridWidth": 1.5, "title": null}},
                "color": {"field": "series", "type": "nominal", "scale": {"domain": ["Nature", "Workers", "Wealth", "Non-Workers", "Carrying Capacity"], "range": ["#138a13", "#14148c", "#8c8c8c", "#ff1414", "#ff8c14"]}, "legend": null}
              }
            },
            {
              "data": {"name": "labels"},
              "transform": [{"filter": "datum.panel === 'd'"}],
              "mark": {"type": "text", "font": "Liberation Serif", "fontSize": 25, "align": "center", "baseline": "middle"},
              "encoding": {
                "x": {"field": "year", "type": "quantitative", "axis": {"orient": "top", "title": "Equitable Society: Irreversible, Type-N (Full) Collapse", "labels": false, "ticks": false, "domain": false, "grid": false, "titleAnchor": "start", "titleAlign": "left", "titleBaseline": "alphabetic", "titleX": 7, "titleY": -7, "titleFontSize": 23, "titleFontWeight": "normal"}},
                "y": {"field": "value", "type": "quantitative", "axis": null},
                "text": {"field": "label"},
                "color": {"field": "series", "type": "nominal", "legend": null}
              }
            },
            {
              "data": {"name": "ticks"},
              "transform": [{"filter": "datum.panel === 'd'"}],
              "mark": {"type": "text", "font": "Liberation Serif", "fontSize": 17, "align": "right", "baseline": "middle", "dx": -31, "color": "black"},
              "encoding": {
                "x": {"datum": 0, "type": "quantitative", "axis": null},
                "y": {"field": "value", "type": "quantitative", "axis": null},
                "text": {"field": "num"}
              }
            },
            {
              "data": {"name": "ticks"},
              "transform": [{"filter": "datum.panel === 'd'"}],
              "mark": {"type": "text", "font": "Liberation Serif", "fontSize": 17, "align": "left", "baseline": "middle", "dx": -25},
              "encoding": {
                "x": {"datum": 0, "type": "quantitative", "axis": null},
                "y": {"field": "value", "type": "quantitative", "axis": null},
                "text": {"field": "sym"},
                "color": {"field": "series", "type": "nominal", "legend": null}
              }
            },
            {
              "data": {"name": "ticks"},
              "transform": [{"filter": "datum.panel === 'd' && datum.series === 'Workers'"}],
              "mark": {"type": "text", "font": "Liberation Serif", "fontSize": 11, "align": "left", "baseline": "middle", "dx": -15, "dy": 5, "text": "M"},
              "encoding": {
                "x": {"datum": 0, "type": "quantitative", "axis": null},
                "y": {"field": "value", "type": "quantitative", "axis": null},
                "color": {"field": "series", "type": "nominal", "legend": null}
              }
            }
          ]
        }
      ]
    }
  ]
}
